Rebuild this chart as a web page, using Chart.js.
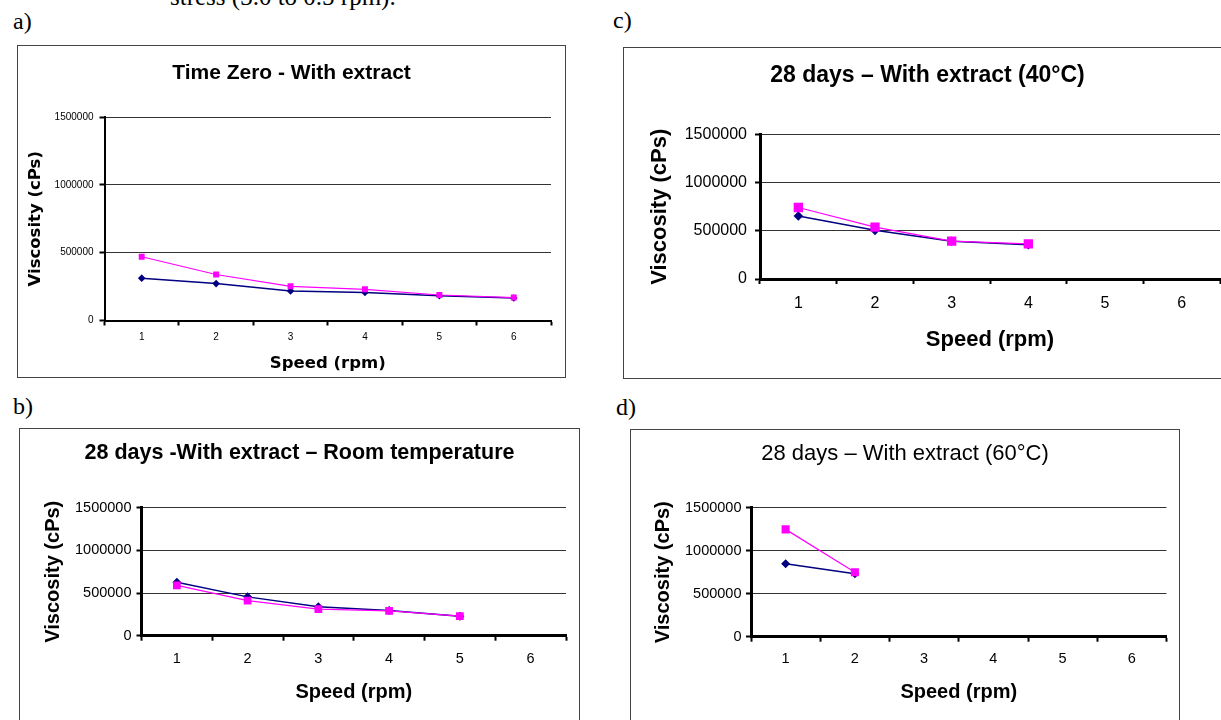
<!DOCTYPE html>
<html>
<head>
<meta charset="utf-8">
<script src="https://cdn.jsdelivr.net/npm/chart.js@4.4.0/dist/chart.umd.min.js"></script>
<style>
  html, body { margin: 0; padding: 0; width: 1221px; height: 720px; overflow: hidden; background: #fff; }
  .box { position: absolute; border: 1px solid #444; }
  .box canvas { display: block; }
  .tag { position: absolute; font-family: 'Liberation Serif', 'Times New Roman', serif; font-size: 24px; line-height: 24px; color: #000; white-space: nowrap; }
</style>
</head>
<body>
<div class="tag" style="left:170px; top:-16px; font-size:25px; line-height:25px;">stress (3.0 to 0.5 rpm).</div>
<div class="tag" style="left:13px; top:9px;">a)</div>
<div class="tag" style="left:613px; top:8px;">c)</div>
<div class="tag" style="left:13px; top:394px;">b)</div>
<div class="tag" style="left:616px; top:395px;">d)</div>

<div class="box" style="left:17px; top:45px;"><canvas id="chartA" width="547" height="331"></canvas></div>
<div class="box" style="left:623px; top:47px;"><canvas id="chartC" width="607" height="330"></canvas></div>
<div class="box" style="left:19px; top:428px;"><canvas id="chartB" width="559" height="300"></canvas></div>
<div class="box" style="left:630px; top:429px;"><canvas id="chartD" width="548" height="300"></canvas></div>

<script>
// --- données ---
const speedLabels = ['1', '2', '3', '4', '5', '6'];
const yMin = 0, yMax = 1500000, yStep = 500000;

// a) temps zéro
const zeroBlue = [312000, 272000, 218000, 206000, 183000, 166000];
const zeroPink = [470000, 339000, 252000, 230000, 188000, 169000];
// b) 28 jours, température ambiante
const roomBlue = [626000, 455000, 338000, 295000, 228000];
const roomPink = [590000, 411000, 311000, 292000, 230000];
// c) 28 jours, 40°C
const d40Blue = [654000, 505000, 392000, 355000];
const d40Pink = [742000, 538000, 394000, 365000];
// d) 28 jours, 60°C
const d60Blue = [847000, 733000];
const d60Pink = [1248000, 750000];

Chart.defaults.color = '#000';
Chart.defaults.font.family = "'Liberation Sans', Arial, sans-serif";

const SANS = "'Liberation Sans', Arial, sans-serif";

function drawPanel(id, blue, pink, t) {
    const ctx = document.getElementById(id);
    return new Chart(ctx, {
        type: 'line',
        data: {
            labels: speedLabels,
            datasets: [
                {
                    data: pink, order: 0,
                    borderColor: '#ff00ff', backgroundColor: '#ff00ff', borderWidth: 1.2,
                    pointStyle: 'rect', pointRadius: t.sq, pointBorderWidth: 0, tension: 0
                },
                {
                    data: blue, order: 1,
                    borderColor: '#000080', backgroundColor: '#000080', borderWidth: 1.5,
                    pointStyle: 'rectRot', pointRadius: t.dm, pointBorderWidth: 0, tension: 0
                }
            ]
        },
        options: {
            responsive: false, animation: false,
            layout: { padding: { left: t.pad, right: t.pad, top: 0, bottom: 0 } },
            plugins: {
                legend: { display: false },
                tooltip: { enabled: false },
                title: {
                    display: true, text: t.title, color: '#000',
                    font: { family: SANS, size: t.titleSize, weight: t.titleWeight, lineHeight: 1.2 },
                    padding: { top: t.titleTop, bottom: t.titleBottom }
                }
            },
            scales: {
                x: {
                    type: 'category', offset: true,
                    grid: { display: true, drawOnChartArea: false, drawTicks: true, tickLength: 5, tickWidth: 2, tickColor: '#000', offset: true },
                    border: { display: true, color: '#000', width: t.axisW },
                    ticks: { font: { family: SANS, size: t.tickSize }, color: '#000', padding: t.xPad, maxRotation: 0, autoSkip: false },
                    title: {
                        display: true, text: 'Speed (rpm)', color: '#000',
                        font: { family: t.axFont, size: t.axSize, weight: 'bold', lineHeight: 1 },
                        padding: { top: 0, bottom: t.xtPad }
                    },
                    afterFit: s => { s.height = t.xH; }
                },
                y: {
                    min: yMin, max: yMax,
                    grid: { color: '#333', lineWidth: 1, drawTicks: true, tickLength: 5, tickWidth: 2, tickColor: '#000' },
                    border: { display: true, color: '#000', width: t.axisW },
                    ticks: { stepSize: yStep, font: { family: SANS, size: t.tickSize }, color: '#000', padding: t.yPad, callback: v => String(v) },
                    title: {
                        display: true, text: 'Viscosity (cPs)', color: '#000',
                        font: { family: t.axFont, size: t.axSize, weight: 'bold', lineHeight: 1 },
                        padding: { top: t.ytPad, bottom: 0 }
                    },
                    afterFit: s => { s.width = t.yW; }
                }
            }
        }
    });
}

drawPanel('chartA', zeroBlue, zeroPink, {
    title: 'Time Zero - With extract', titleSize: 21, titleWeight: 'bold', titleTop: 14.4, titleBottom: 31.4,
    pad: 14, yW: 72.5, xH: 56.5, axisW: 2, tickSize: 10, xPad: 6, yPad: 6,
    axFont: "'DejaVu Sans', sans-serif", axSize: 16.5, ytPad: -4.75, xtPad: 4.75, sq: 4.2, dm: 3.8
});

drawPanel('chartC', d40Blue, d40Pink, {
    title: '28 days \u2013 With extract (40\u00b0C)', titleSize: 23, titleWeight: 'bold', titleTop: 14.2, titleBottom: 44.7,
    pad: 11, yW: 125, xH: 99, axisW: 3, tickSize: 16, xPad: 10, yPad: 8,
    axFont: SANS, axSize: 22, ytPad: 14, xtPad: 27, sq: 6.6, dm: 4.8
});

drawPanel('chartB', roomBlue, roomPink, {
    title: '28 days -With extract \u2013 Room temperature', titleSize: 21.5, titleWeight: 'bold', titleTop: 11.1, titleBottom: 41.8,
    pad: 13, yW: 108.5, xH: 93.3, axisW: 3, tickSize: 14.5, xPad: 9.5, yPad: 5,
    axFont: SANS, axSize: 20, ytPad: 10, xtPad: 27, sq: 5.5, dm: 4.5
});

drawPanel('chartD', d60Blue, d60Pink, {
    title: '28 days \u2013 With extract (60\u00b0C)', titleSize: 22, titleWeight: 'normal', titleTop: 10.6, titleBottom: 40.7,
    pad: 12.5, yW: 107.5, xH: 93.3, axisW: 3, tickSize: 14.5, xPad: 9, yPad: 4.5,
    axFont: SANS, axSize: 20, ytPad: 9.5, xtPad: 28, sq: 5.7, dm: 4.5
});
</script>
</body>
</html>
